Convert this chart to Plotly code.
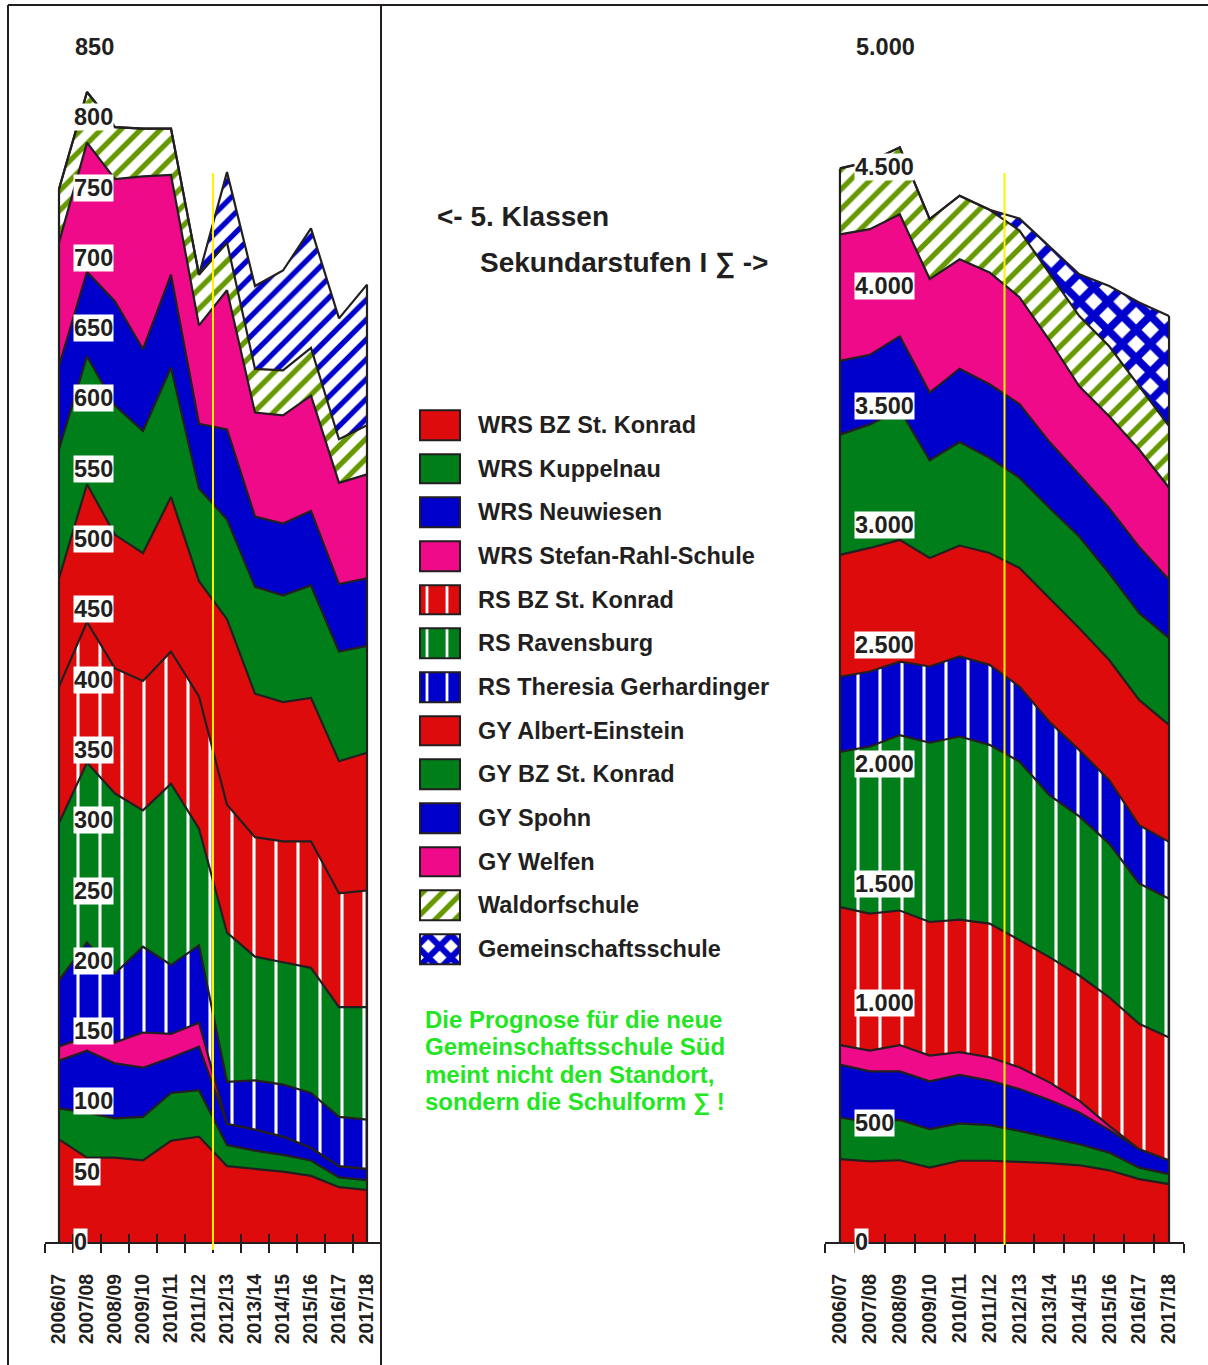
import plotly.graph_objects as go
import numpy as np

W, H = 1208, 1365
DARK = "#231f20"
RED = "#dd0b0b"
GREEN = "#007e1a"
BLUE = "#0000cc"
PINK = "#ef0a8a"
OLIVE = "#669900"
YELLOW = "#fff200"
TXTGREEN = "#22e622"
FONT = "Liberation Sans, Arial, Helvetica, sans-serif"


def fx(p):
    return p / W


def fy(p):
    return 1 - p / H


# ---------------- data ----------------
years = ["2006/07", "2007/08", "2008/09", "2009/10", "2010/11", "2011/12",
         "2012/13", "2013/14", "2014/15", "2015/16", "2016/17", "2017/18"]

# left chart: 5. Klassen
L_wrs_bz = [73, 60, 60, 58, 72, 75, 54, 52, 50, 47, 39, 37]
L_wrs_kup = [22, 32, 28, 31, 34, 33, 15, 13, 12, 11, 7, 7]
L_wrs_neu = [34, 44, 39, 35, 25, 31, 15, 15, 13, 9, 8, 8]
L_wrs_srs = [10, 10, 15, 25, 17, 17, 0, 0, 0, 0, 0, 0]
L_rs_ther = [47, 67, 49, 61, 49, 55, 30, 35, 37, 39, 35, 35]
L_rs_rav = [112, 128, 128, 97, 129, 83, 106, 88, 87, 89, 78, 80]
L_rs_bz = [97, 100, 89, 92, 94, 94, 91, 85, 86, 90, 81, 83]
L_gy_ae = [77, 98, 95, 91, 110, 82, 132, 102, 99, 102, 94, 98]
L_gy_bz = [92, 91, 92, 87, 92, 66, 71, 76, 76, 80, 78, 76]
L_gy_spo = [59, 60, 74, 58, 66, 46, 64, 50, 51, 53, 48, 48]
L_gy_wel = [88, 92, 87, 123, 71, 70, 99, 74, 77, 82, 72, 74]
L_wald = [38, 36, 37, 34, 33, 36, 34, 31, 32, 34, 31, 35]
L_gem = [0, 0, 0, 0, 0, 0, 50, 59, 71, 85, 86, 100]

# right chart: Sekundarstufen I total
R_wrs_bz = [347, 337, 342, 311, 340, 340, 335, 330, 321, 300, 263, 242]
R_wrs_kup = [174, 163, 169, 161, 156, 149, 130, 107, 88, 74, 48, 42]
R_wrs_neu = [221, 214, 203, 200, 203, 186, 175, 157, 133, 95, 78, 58]
R_wrs_srs = [82, 87, 110, 108, 95, 98, 91, 74, 49, 17, 0, 0]
R_rs_bz = [577, 573, 563, 559, 555, 559, 532, 524, 524, 538, 524, 514]
R_rs_rav = [650, 699, 734, 750, 766, 748, 747, 678, 666, 643, 587, 580]
R_rs_ther = [314, 314, 307, 319, 335, 335, 314, 307, 277, 265, 244, 238]
R_gy_ae = [510, 517, 510, 454, 464, 468, 496, 517, 510, 503, 524, 490]
R_gy_bz = [503, 517, 545, 409, 433, 398, 378, 378, 384, 363, 364, 363]
R_gy_spo = [309, 291, 307, 283, 307, 308, 308, 276, 258, 272, 276, 244]
R_gy_wel = [529, 526, 510, 475, 458, 468, 447, 426, 370, 385, 408, 385]
R_wald = [276, 283, 280, 251, 266, 262, 279, 280, 294, 293, 265, 258]
R_gem = [0, 0, 0, 0, 0, 0, 50, 111, 175, 252, 350, 461]

left_ticks = list(range(0, 801, 50))
left_top = 850
right_ticks = list(range(0, 4501, 500))
right_top = 5000

legend_names = ["WRS BZ St. Konrad", "WRS Kuppelnau", "WRS Neuwiesen",
                "WRS Stefan-Rahl-Schule", "RS BZ St. Konrad", "RS Ravensburg",
                "RS Theresia Gerhardinger", "GY Albert-Einstein", "GY BZ St. Konrad",
                "GY Spohn", "GY Welfen", "Waldorfschule", "Gemeinschaftsschule"]

title_lines = ["<- 5. Klassen", "Sekundarstufen I \u2211 ->"]
note_lines = ["Die Prognose f\u00fcr die neue", "Gemeinschaftsschule S\u00fcd",
              "meint nicht den Standort,", "sondern die Schulform \u2211 !"]

# ---------------- styles ----------------
STYLE = {
    "WRS BZ St. Konrad": ("solid", RED),
    "WRS Kuppelnau": ("solid", GREEN),
    "WRS Neuwiesen": ("solid", BLUE),
    "WRS Stefan-Rahl-Schule": ("solid", PINK),
    "RS BZ St. Konrad": ("vstripe", RED),
    "RS Ravensburg": ("vstripe", GREEN),
    "RS Theresia Gerhardinger": ("vstripe", BLUE),
    "GY Albert-Einstein": ("solid", RED),
    "GY BZ St. Konrad": ("solid", GREEN),
    "GY Spohn": ("solid", BLUE),
    "GY Welfen": ("solid", PINK),
    "Waldorfschule": ("diag", OLIVE),
    "Gemeinschaftsschule": ("cross", BLUE),
}


def pattern(kind, color, legend=False):
    if kind == "vstripe":
        return dict(shape="|", bgcolor=color, fgcolor="white", fgopacity=1,
                    size=20 if legend else 22, solidity=0.14, fillmode="overlay")
    if kind == "diag":
        return dict(shape="/", bgcolor="white", fgcolor=color, fgopacity=1,
                    size=14, solidity=0.38, fillmode="overlay")
    if kind == "cross":
        return dict(shape="x", bgcolor="white", fgcolor=color, fgopacity=1,
                    size=16 if legend else 20, solidity=0.62, fillmode="overlay")
    return None


def base_color(kind, color):
    return color if kind in ("solid", "vstripe") else "white"


xi = list(range(len(years)))
bounds = [i - 0.5 for i in range(len(years) + 1)]

fig = go.Figure()
LW = 2.2


def add_stack(series, xa, ya, group, override=None):
    override = override or {}
    for name, vals in series:
        kind, color = override.get(name, STYLE[name])
        kw = dict(fillcolor=base_color(kind, color))
        p = pattern(kind, color)
        if p:
            kw["fillpattern"] = p
        fig.add_trace(go.Scatter(x=xi, y=vals, mode="lines", name=name, stackgroup=group,
                                 line=dict(color=DARK, width=LW), xaxis=xa, yaxis=ya,
                                 showlegend=False, hoverinfo="skip", **kw))
    tot = np.sum([v for _, v in series], axis=0)
    fig.add_trace(go.Scatter(x=[xi[0], xi[0], None, xi[-1], xi[-1]],
                             y=[0, tot[0], None, 0, tot[-1]], mode="lines",
                             line=dict(color=DARK, width=LW), xaxis=xa, yaxis=ya,
                             showlegend=False, hoverinfo="skip"))


left_series = [("WRS BZ St. Konrad", L_wrs_bz), ("WRS Kuppelnau", L_wrs_kup),
               ("WRS Neuwiesen", L_wrs_neu), ("WRS Stefan-Rahl-Schule", L_wrs_srs),
               ("RS Theresia Gerhardinger", L_rs_ther), ("RS Ravensburg", L_rs_rav),
               ("RS BZ St. Konrad", L_rs_bz), ("GY Albert-Einstein", L_gy_ae),
               ("GY BZ St. Konrad", L_gy_bz), ("GY Spohn", L_gy_spo),
               ("GY Welfen", L_gy_wel), ("Waldorfschule", L_wald),
               ("Gemeinschaftsschule", L_gem)]
right_series = [("WRS BZ St. Konrad", R_wrs_bz), ("WRS Kuppelnau", R_wrs_kup),
                ("WRS Neuwiesen", R_wrs_neu), ("WRS Stefan-Rahl-Schule", R_wrs_srs),
                ("RS BZ St. Konrad", R_rs_bz), ("RS Ravensburg", R_rs_rav),
                ("RS Theresia Gerhardinger", R_rs_ther), ("GY Albert-Einstein", R_gy_ae),
                ("GY BZ St. Konrad", R_gy_bz), ("GY Spohn", R_gy_spo),
                ("GY Welfen", R_gy_wel), ("Waldorfschule", R_wald),
                ("Gemeinschaftsschule", R_gem)]

add_stack(left_series, "x", "y", "left", override={"Gemeinschaftsschule": ("diag", BLUE)})
add_stack(right_series, "x2", "y2", "right")

# dummy traces so the overlay tick axes are drawn
fig.add_trace(go.Scatter(x=[None], y=[None], xaxis="x3", yaxis="y", showlegend=False))
fig.add_trace(go.Scatter(x=[None], y=[None], xaxis="x4", yaxis="y2", showlegend=False))

# legend swatches as one bar per entry
for i, n in enumerate(legend_names):
    kind, color = STYLE[n]
    mk = dict(color=base_color(kind, color), line=dict(color=DARK, width=2))
    p = pattern(kind, color, legend=True)
    if p:
        mk["pattern"] = p
    fig.add_trace(go.Bar(y=[i], x=[1], base=0, orientation="h", width=0.68,
                         xaxis="x5", yaxis="y5", showlegend=False, hoverinfo="skip",
                         marker=mk))

Y0, YT = 1242, 47
ydom = [fy(Y0), fy(YT)]
tickfont = dict(family=FONT, size=19.5, color=DARK, weight="bold")


def xaxis_main(dom):
    return dict(domain=dom, range=[-0.5, len(years) - 0.5], tickmode="array", tickvals=xi,
                ticktext=years, tickangle=-90, ticks="", showline=True, linecolor=DARK,
                linewidth=2, showgrid=False, zeroline=False, tickfont=tickfont,
                ticklabelstandoff=22, fixedrange=True,
                minor=dict(tickmode="array", tickvals=bounds, ticks="outside", ticklen=9,
                           tickwidth=2, tickcolor=DARK, showgrid=False))


def xaxis_over(over, anchor):
    return dict(overlaying=over, anchor=anchor, range=[-0.5, len(years) - 0.5],
                tickmode="array", tickvals=bounds, ticks="inside", ticklen=8, tickwidth=2,
                tickcolor=DARK, showticklabels=False, showline=False, showgrid=False,
                zeroline=False, fixedrange=True)


LEG_Y0, LEG_DY = 425, 43.67
nrow = len(legend_names)

fig.update_layout(
    width=W, height=H, margin=dict(l=0, r=0, t=0, b=0),
    paper_bgcolor="white", plot_bgcolor="rgba(0,0,0,0)", showlegend=False,
    font=dict(family=FONT, color=DARK),
    xaxis=dict(anchor="y", **xaxis_main([fx(45), fx(381)])),
    yaxis=dict(domain=ydom, range=[0, left_top], visible=False, fixedrange=True, anchor="x"),
    xaxis2=dict(anchor="y2", **xaxis_main([fx(825), fx(1184)])),
    yaxis2=dict(domain=ydom, range=[0, right_top], visible=False, fixedrange=True, anchor="x2"),
    xaxis3=xaxis_over("x", "y"),
    xaxis4=xaxis_over("x2", "y2"),
    xaxis5=dict(domain=[fx(417), fx(463)], range=[-0.075, 1.075], visible=False,
                anchor="y5", fixedrange=True),
    yaxis5=dict(domain=[fy(LEG_Y0 + (nrow - 0.5) * LEG_DY), fy(LEG_Y0 - 0.5 * LEG_DY)],
                range=[nrow - 0.5, -0.5], visible=False, anchor="x5", fixedrange=True),
    bargap=0,
)

ann = []
lab_font = dict(family=FONT, size=23.5, color=DARK, weight="bold")
for v in left_ticks:
    ann.append(dict(x=fx(73), xref="paper", y=v, yref="y", text=str(v), showarrow=False,
                    xanchor="left", yanchor="middle", bgcolor="white", borderpad=0, font=lab_font))
ann.append(dict(x=fx(73), xref="paper", y=left_top, yref="y", text=str(left_top), showarrow=False,
                xanchor="left", yanchor="middle", font=lab_font))
for v in right_ticks:
    ann.append(dict(x=fx(854), xref="paper", y=v, yref="y2", text=f"{v:,}".replace(",", "."),
                    showarrow=False, xanchor="left", yanchor="middle", bgcolor="white",
                    borderpad=0, font=lab_font))
ann.append(dict(x=fx(854), xref="paper", y=right_top, yref="y2",
                text=f"{right_top:,}".replace(",", "."), showarrow=False, xanchor="left",
                yanchor="middle", font=lab_font))

for i, n in enumerate(legend_names):
    ann.append(dict(x=fx(476), xref="paper", y=i, yref="y5", text=n, showarrow=False,
                    xanchor="left", yanchor="middle", font=lab_font))

title_font = dict(family=FONT, size=28, color=DARK, weight="bold")
ann.append(dict(x=fx(435), y=fy(216), xref="paper", yref="paper", text=title_lines[0],
                showarrow=False, xanchor="left", yanchor="middle", font=title_font))
ann.append(dict(x=fx(478), y=fy(263), xref="paper", yref="paper", text=title_lines[1],
                showarrow=False, xanchor="left", yanchor="middle", font=title_font))

note_font = dict(family=FONT, size=24, color=TXTGREEN, weight="bold")
for k, line in enumerate(note_lines):
    ann.append(dict(x=fx(423), y=fy(1019 + k * 27.7), xref="paper", yref="paper", text=line,
                    showarrow=False, xanchor="left", yanchor="middle", font=note_font))

fig.update_layout(annotations=ann)

shp = [
    dict(type="line", xref="paper", yref="paper", x0=fx(8), x1=fx(8), y0=fy(5), y1=0,
         line=dict(color=DARK, width=2)),
    dict(type="line", xref="paper", yref="paper", x0=fx(8), x1=1, y0=fy(5), y1=fy(5),
         line=dict(color=DARK, width=2)),
    dict(type="line", xref="paper", yref="paper", x0=fx(381), x1=fx(381), y0=fy(5), y1=0,
         line=dict(color=DARK, width=2)),
    dict(type="line", xref="x", yref="paper", x0=5.5, x1=5.5, y0=fy(1250), y1=fy(173),
         line=dict(color=YELLOW, width=2), layer="above"),
    dict(type="line", xref="x2", yref="paper", x0=5.5, x1=5.5, y0=fy(1245), y1=fy(173),
         line=dict(color=YELLOW, width=2), layer="above"),
]
fig.update_layout(shapes=shp)

fig.write_html("out.html", config={"displayModeBar": False},
               post_script="document.body.style.margin='0';")
